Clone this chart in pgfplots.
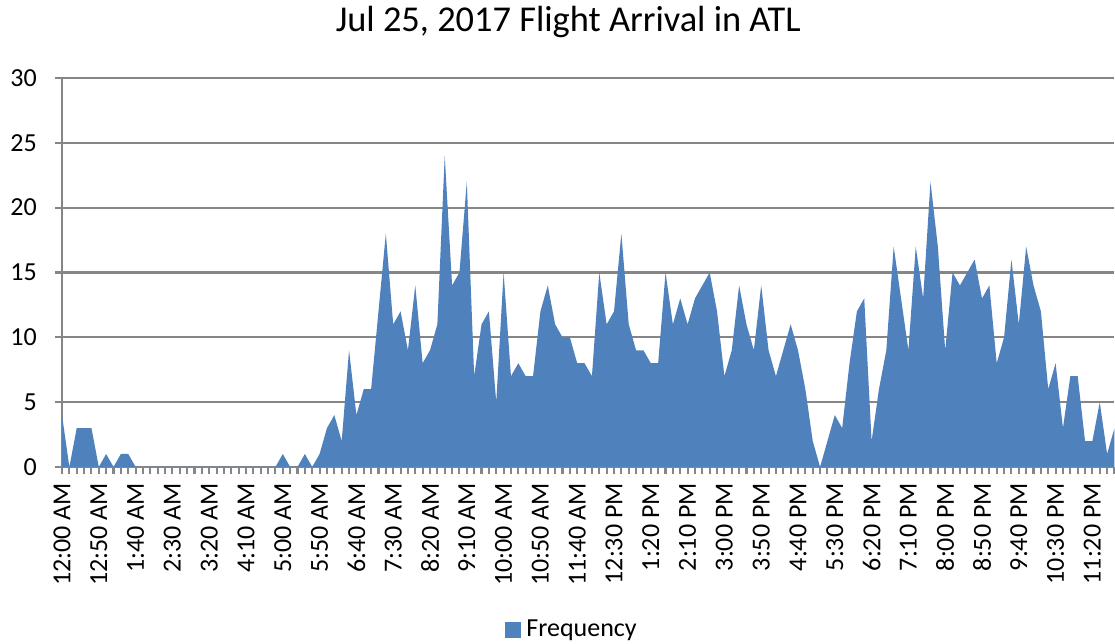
\documentclass[border=0pt]{standalone}
\usepackage{fontspec}
\setmainfont{Carlito}
\usepackage{pgfplots}
\usepackage{pgfplotstable}
\pgfplotsset{compat=1.18}
\definecolor{areablue}{RGB}{79,129,189}
\definecolor{gridgray}{RGB}{134,134,134}
\pgfplotstableread{
i v
0 4
1 0
2 3
3 3
4 3
5 0
6 1
7 0
8 1
9 1
10 0
11 0
12 0
13 0
14 0
15 0
16 0
17 0
18 0
19 0
20 0
21 0
22 0
23 0
24 0
25 0
26 0
27 0
28 0
29 0
30 1
31 0
32 0
33 1
34 0
35 1
36 3
37 4
38 2
39 9
40 4
41 6
42 6
43 12
44 18
45 11
46 12
47 9
48 14
49 8
50 9
51 11
52 24
53 14
54 15
55 22
56 7
57 11
58 12
59 5
60 15
61 7
62 8
63 7
64 7
65 12
66 14
67 11
68 10
69 10
70 8
71 8
72 7
73 15
74 11
75 12
76 18
77 11
78 9
79 9
80 8
81 8
82 15
83 11
84 13
85 11
86 13
87 14
88 15
89 12
90 7
91 9
92 14
93 11
94 9
95 14
96 9
97 7
98 9
99 11
100 9
101 6
102 2
103 0
104 2
105 4
106 3
107 8
108 12
109 13
110 2
111 6
112 9
113 17
114 13
115 9
116 17
117 13
118 22
119 17
120 9
121 15
122 14
123 15
124 16
125 13
126 14
127 8
128 10
129 16
130 11
131 17
132 14
133 12
134 6
135 8
136 3
137 7
138 7
139 2
140 2
141 5
142 1
143 3
}\freqdata
\begin{document}
\begin{tikzpicture}
\path[use as bounding box] (-23.85pt,-68.1pt) rectangle (405pt,179.6pt);
\begin{axis}[
  at={(0,0)}, anchor=south west,
  scale only axis, width=404.8pt, height=149.6pt,
  xmin=0, xmax=143, ymin=0, ymax=30,
  axis x line*=bottom, axis y line*=left,
  axis line style={gridgray, line width=0.8pt, -},
  xtick={0,5,...,140},
  xticklabels={12:00 AM,12:50 AM,1:40 AM,2:30 AM,3:20 AM,4:10 AM,5:00 AM,5:50 AM,6:40 AM,7:30 AM,8:20 AM,9:10 AM,10:00 AM,10:50 AM,11:40 AM,12:30 PM,1:20 PM,2:10 PM,3:00 PM,3:50 PM,4:40 PM,5:30 PM,6:20 PM,7:10 PM,8:00 PM,8:50 PM,9:40 PM,10:30 PM,11:20 PM},
  minor xtick={0,1,...,143},
  ytick={0,5,...,30},
  ymajorgrids, grid style={gridgray, line width=0.8pt},
  tick align=outside,
  major tick length=2.7pt, minor tick length=2.7pt,
  tick style={gridgray, line width=0.8pt},
  every tick/.style={gridgray, line width=0.8pt},
  minor tick style={gridgray, line width=0.8pt},
  xticklabel style={rotate=90, anchor=east, font=\fontsize{10}{12}\selectfont, text=black},
  yticklabel style={font=\fontsize{10}{12}\selectfont, text=black, xshift=-3.5pt},
  /pgf/number format/assume math mode=true,
  title={Jul 25, 2017 Flight Arrival in ATL},
  title style={at={(axis description cs:0.481,1)}, anchor=center, yshift=15.5pt, font=\fontsize{14}{17}\selectfont},
  legend style={at={(axis description cs:0.486,-0.419)}, anchor=center, draw=none, fill=none, font=\fontsize{10}{12}\selectfont},
  legend image code/.code={\fill[areablue] (0pt,-3.1pt) rectangle (6.2pt,3.1pt);},
]
\addplot[fill=areablue, draw=none] table[x=i, y=v] {\freqdata} \closedcycle;
\addlegendentry{Frequency}
\end{axis}
\end{tikzpicture}
\end{document}
